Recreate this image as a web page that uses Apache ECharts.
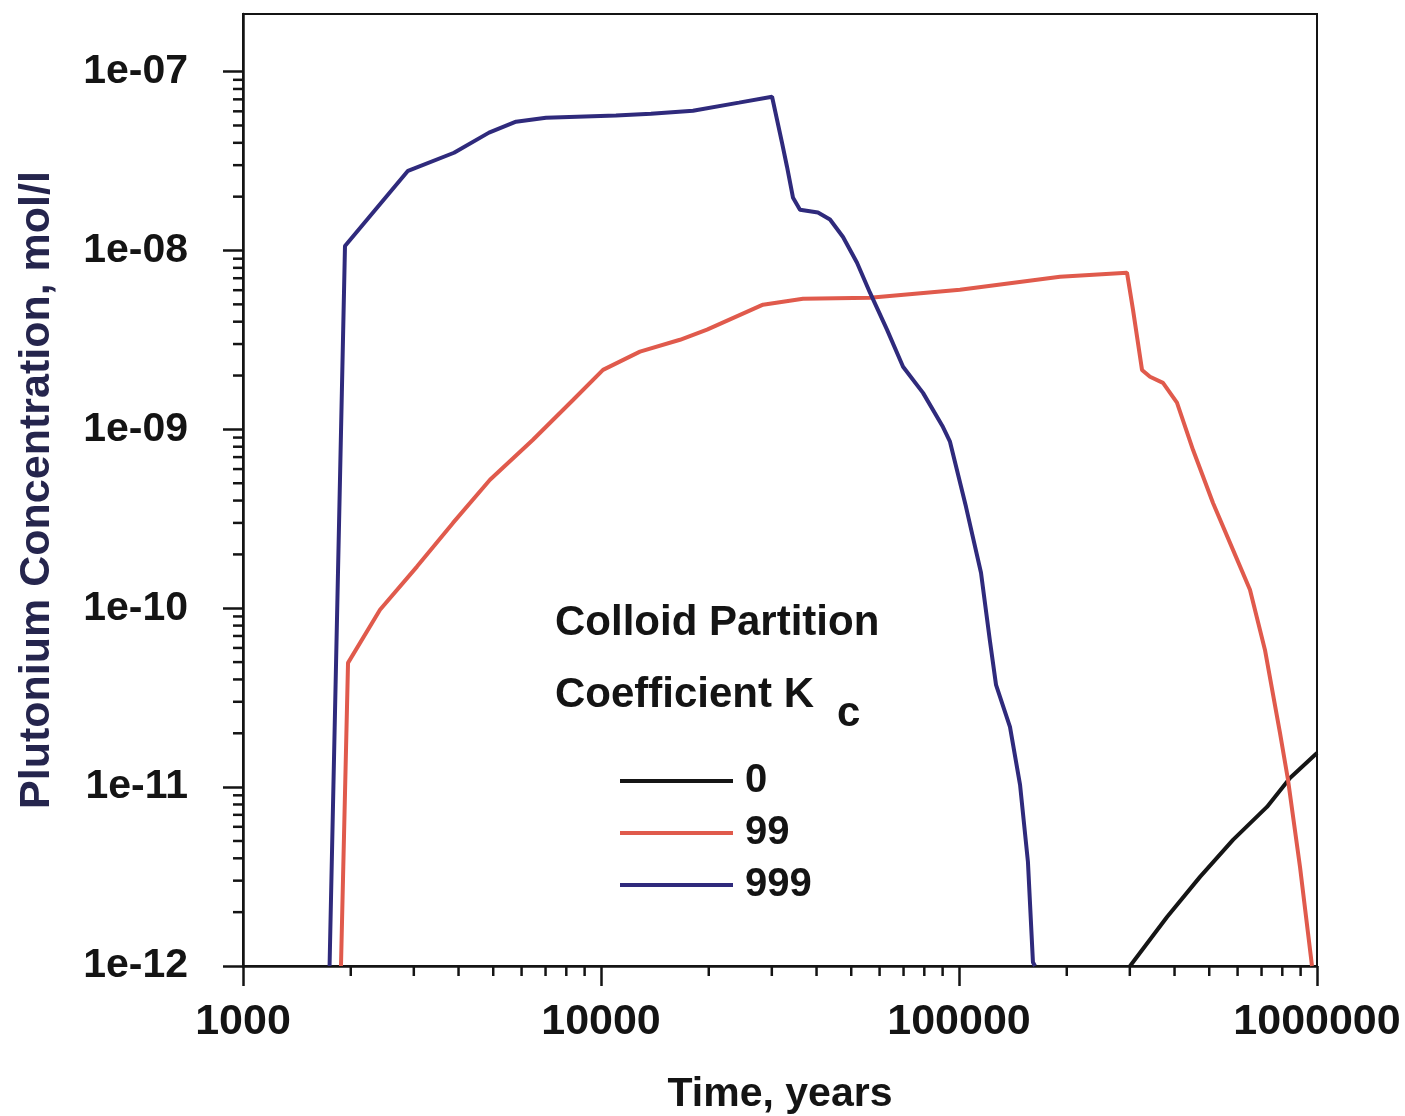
<!DOCTYPE html>
<html>
<head>
<meta charset="utf-8">
<script src="https://cdn.jsdelivr.net/npm/echarts@6/dist/echarts.min.js"></script>
<style>
html,body{margin:0;padding:0;background:#fff;}
#chart{width:1405px;height:1116px;}
</style>
</head>
<body>
<div id="chart"></div>
<script>
// ---- data ----
const seriesNames = ['0', '99', '999'];

const kc0Time = [300500, 381100, 471200, 582600, 724800, 840600, 1000000];
const kc0Conc = [1e-12, 1.88e-12, 3.15e-12, 5.07e-12, 7.75e-12, 1.125e-11, 1.55e-11];

const kc99Time = [1878, 1965, 2414, 3062, 3860, 4897, 6457, 8352, 10130, 12850, 16620, 19780, 28350, 36660, 56410, 100600, 191500, 294600, 306200, 324500, 341600, 371400, 406300, 450400, 512300, 582600, 649800, 715600, 788100, 829800, 896500, 943800, 968300];
const kc99Conc = [1e-12, 4.95e-11, 9.8e-11, 1.71e-10, 3.0e-10, 5.23e-10, 8.75e-10, 1.46e-9, 2.15e-9, 2.72e-9, 3.17e-9, 3.61e-9, 4.98e-9, 5.37e-9, 5.45e-9, 6.04e-9, 7.13e-9, 7.52e-9, 4.67e-9, 2.15e-9, 1.97e-9, 1.82e-9, 1.41e-9, 7.69e-10, 3.88e-10, 2.12e-10, 1.27e-10, 5.85e-11, 2.01e-11, 1.10e-11, 3.58e-12, 1.53e-12, 1e-12];

const kc999Time = [1745, 1927, 2890, 3886, 4866, 5789, 7021, 11010, 13790, 18070, 24290, 30050, 32030, 33080, 34390, 35960, 40370, 43620, 47430, 51900, 56410, 62930, 69780, 79340, 90220, 94370, 104600, 115200, 122100, 126900, 138800, 148100, 155800, 160900, 163000];
const kc999Conc = [1e-12, 1.06e-8, 2.79e-8, 3.52e-8, 4.56e-8, 5.25e-8, 5.53e-8, 5.68e-8, 5.82e-8, 6.05e-8, 6.71e-8, 7.24e-8, 4.01e-8, 2.94e-8, 1.97e-8, 1.69e-8, 1.63e-8, 1.49e-8, 1.19e-8, 8.55e-9, 5.81e-9, 3.61e-9, 2.24e-9, 1.60e-9, 1.03e-9, 8.53e-10, 3.69e-10, 1.58e-10, 6.49e-11, 3.73e-11, 2.17e-11, 1.03e-11, 3.82e-12, 1.05e-12, 1e-12];

const xRange = [1000, 1000000];
const yRange = [1e-12, 2.1e-7];
const yMajorTicks = [1e-12, 1e-11, 1e-10, 1e-9, 1e-8, 1e-7];
const xMinorTicks = [2000,3000,4000,5000,6000,7000,8000,9000,20000,30000,40000,50000,60000,70000,80000,90000,200000,300000,400000,500000,600000,700000,800000,900000];
const yMinorTicks = [];
[1e-12, 1e-11, 1e-10, 1e-9, 1e-8].forEach(function (d) {
  [2,3,4,5,6,7,8,9].forEach(function (m) { yMinorTicks.push(m * d); });
});

const xTitle = 'Time, years';
const yTitle = 'Plutonium Concentration, mol/l';

// ---- chart ----
const FONT = "'Liberation Sans', Arial, Helvetica, sans-serif";
const INK = '#141414';
function zip(a, b) { return a.map(function (v, i) { return [v, b[i]]; }); }

const chart = echarts.init(document.getElementById('chart'), null, {renderer: 'canvas'});

const option = {
  animation: false,
  backgroundColor: '#ffffff',
  grid: {
    left: 243, right: 88, top: 14, bottom: 150,
    outerBoundsMode: 'none', containLabel: false,
    show: true, borderColor: INK, borderWidth: 2, backgroundColor: 'transparent'
  },
  xAxis: {
    type: 'log', logBase: 10, min: xRange[0], max: xRange[1],
    name: xTitle, nameLocation: 'middle', nameGap: 108,
    nameTextStyle: {fontFamily: FONT, fontWeight: 'bold', fontSize: 41, color: INK},
    axisLine: {show: true, lineStyle: {color: INK, width: 2.5}},
    axisTick: {show: true, inside: false, length: 20, lineStyle: {color: INK, width: 2.5}},
    axisLabel: {
      margin: 35, fontFamily: FONT, fontWeight: 'bold', fontSize: 43, color: INK,
      formatter: function (v) { return String(Math.round(v)); }
    },
    splitLine: {show: false}
  },
  yAxis: {
    type: 'log', logBase: 10, min: yRange[0], max: yRange[1],
    name: yTitle, nameLocation: 'middle', nameGap: 184, nameRotate: 90,
    nameTextStyle: {fontFamily: FONT, fontWeight: 'bold', fontSize: 43, color: '#25254d'},
    axisLine: {show: true, lineStyle: {color: INK, width: 2.5}},
    axisTick: {show: true, inside: false, length: 20, customValues: yMajorTicks, lineStyle: {color: INK, width: 2.5}},
    axisLabel: {
      margin: 55, fontFamily: FONT, fontWeight: 'bold', fontSize: 41, color: INK,
      customValues: yMajorTicks,
      formatter: function (v) {
        const e = Math.round(Math.log10(v));
        const a = Math.abs(e);
        return '1e' + (e < 0 ? '-' : '+') + (a < 10 ? '0' + a : String(a));
      }
    },
    splitLine: {show: false}
  },
  legend: {
    show: true, data: seriesNames, orient: 'vertical',
    left: 615, top: 750, itemWidth: 113, itemHeight: 4, itemGap: 0,
    icon: 'rect',
    textStyle: {fontFamily: FONT, fontWeight: 'bold', fontSize: 40, color: INK, lineHeight: 52, padding: [0, 0, 0, 7]},
    selectedMode: false
  },
  graphic: [
    {type: 'text', left: 555, top: 602, style: {text: 'Colloid Partition', font: "bold 42px " + FONT, fill: INK}},
    {type: 'text', left: 555, top: 674, style: {text: 'Coefficient K', font: "bold 42px " + FONT, fill: INK}},
    {type: 'text', left: 837, top: 693, style: {text: 'c', font: "bold 42px " + FONT, fill: INK}}
  ],
  series: [
    {name: '0', type: 'line', data: zip(kc0Time, kc0Conc), showSymbol: false, symbol: 'none',
     lineStyle: {color: '#151515', width: 4}, itemStyle: {color: '#151515'}, clip: true, z: 3},
    {name: '99', type: 'line', data: zip(kc99Time, kc99Conc), showSymbol: false, symbol: 'none',
     lineStyle: {color: '#e05a4c', width: 4}, itemStyle: {color: '#e05a4c'}, clip: true, z: 3},
    {name: '999', type: 'line', data: zip(kc999Time, kc999Conc), showSymbol: false, symbol: 'none',
     lineStyle: {color: '#2f2a7c', width: 4}, itemStyle: {color: '#2f2a7c'}, clip: true, z: 3},
    {name: 'xMinor', type: 'custom', silent: true, clip: false, z: 5,
     data: xMinorTicks.map(function (v) { return [v, yRange[0]]; }),
     renderItem: function (params, api) {
       const p = api.coord([api.value(0), api.value(1)]);
       return {type: 'line', shape: {x1: p[0], y1: p[1], x2: p[0], y2: p[1] + 10}, style: {stroke: INK, lineWidth: 2.5}};
     }},
    {name: 'yMinor', type: 'custom', silent: true, clip: false, z: 5,
     data: yMinorTicks.map(function (v) { return [xRange[0], v]; }),
     renderItem: function (params, api) {
       const p = api.coord([api.value(0), api.value(1)]);
       return {type: 'line', shape: {x1: p[0] - 10, y1: p[1], x2: p[0], y2: p[1]}, style: {stroke: INK, lineWidth: 2.5}};
     }}
  ]
};
chart.setOption(option);
</script>
</body>
</html>
